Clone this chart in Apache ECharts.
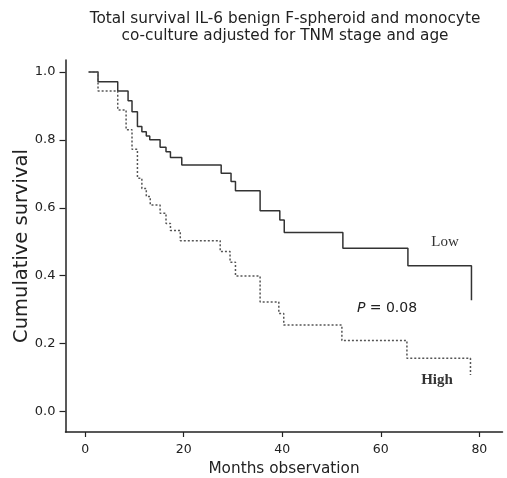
<!DOCTYPE html>
<html>
<head>
<meta charset="utf-8">
<script src="https://cdn.jsdelivr.net/npm/echarts@6/dist/echarts.min.js"></script>
<style>
  html, body { margin: 0; padding: 0; background: #fff; }
  #chart { width: 507px; height: 478px; }
</style>
</head>
<body>
<div id="chart"></div>
<script>
// Kaplan-Meier steps: [month, cumulative survival]
const lowSurvival = [
  [0.7, 1.0], [2.6, 0.971], [6.6, 0.944], [8.7, 0.915], [9.5, 0.883],
  [10.6, 0.839], [11.5, 0.824], [12.4, 0.811], [13.1, 0.800], [15.2, 0.778],
  [16.4, 0.765], [17.3, 0.748], [19.6, 0.726], [27.6, 0.702], [29.6, 0.677],
  [30.5, 0.650], [35.5, 0.591], [39.5, 0.564], [40.4, 0.527], [52.3, 0.481],
  [65.5, 0.429], [78.4, 0.328]
];
const highSurvival = [
  [0.7, 1.0], [2.6, 0.944], [6.6, 0.888], [8.3, 0.830], [9.5, 0.772],
  [10.6, 0.687], [11.5, 0.657], [12.4, 0.633], [13.2, 0.608], [15.2, 0.584],
  [16.4, 0.554], [17.3, 0.533], [19.3, 0.503], [27.4, 0.471], [29.4, 0.440],
  [30.5, 0.399], [35.5, 0.323], [39.3, 0.289], [40.3, 0.255], [52.1, 0.209],
  [65.3, 0.157], [78.2, 0.108]
];
const xTicks = [0, 20, 40, 60, 80];
const yTicks = [0, 0.2, 0.4, 0.6, 0.8, 1.0];

const titleLines = [
  'Total survival IL-6 benign F-spheroid and monocyte',
  'co-culture adjusted for TNM stage and age'
];

const ink = '#222';
const sans = 'DejaVu Sans';
const chart = echarts.init(document.getElementById('chart'));

chart.setOption({
  backgroundColor: '#fff',
  animation: false,
  grid: { left: 65.5, top: 60, width: 437, height: 372, outerBoundsMode: 'none', containLabel: false },
  xAxis: {
    type: 'value',
    min: -4,
    max: 84.7,
    name: 'Months observation',
    nameLocation: 'middle',
    nameGap: 30,
    nameMoveOverlap: false,
    nameTextStyle: { color: ink, fontSize: 15.3, fontFamily: sans },
    axisLine: { show: true, onZero: false, lineStyle: { color: ink, width: 1.5 } },
    axisTick: { show: true, length: 5, customValues: xTicks, lineStyle: { color: ink, width: 1.2 } },
    axisLabel: {
      customValues: xTicks, color: ink, fontSize: 12.5, margin: 11,
      fontFamily: sans
    },
    splitLine: { show: false }
  },
  yAxis: {
    type: 'value',
    min: -0.06,
    max: 1.035,
    name: 'Cumulative survival',
    nameLocation: 'middle',
    nameRotate: 90,
    nameGap: 34,
    nameMoveOverlap: false,
    nameTextStyle: { color: ink, fontSize: 19.5, fontFamily: sans },
    axisLine: { show: true, onZero: false, lineStyle: { color: ink, width: 1.5 } },
    axisTick: { show: true, length: 6, customValues: yTicks, lineStyle: { color: ink, width: 1.2 } },
    axisLabel: {
      customValues: yTicks, color: ink, fontSize: 13, margin: 10,
      fontFamily: sans,
      formatter: (v) => v.toFixed(1)
    },
    splitLine: { show: false }
  },
  series: [
    {
      name: 'Low',
      type: 'line',
      step: 'end',
      data: lowSurvival,
      showSymbol: false,
      lineStyle: { color: '#333', width: 1.5 }
    },
    {
      name: 'High',
      type: 'line',
      step: 'end',
      data: highSurvival,
      showSymbol: false,
      lineStyle: { color: '#555', width: 1.5, type: [2, 2] }
    }
  ],
  graphic: [
    {
      type: 'text',
      x: 285, y: 11,
      style: {
        text: titleLines.join('\n'),
        textAlign: 'center',
        lineHeight: 17,
        fill: ink,
        font: '15.3px "DejaVu Sans"'
      }
    },
    {
      type: 'text',
      x: 445, y: 242,
      style: { text: 'Low', textAlign: 'center', textVerticalAlign: 'middle', fill: '#333', font: '15px "Liberation Serif"' }
    },
    {
      type: 'text',
      x: 437, y: 380,
      style: { text: 'High', textAlign: 'center', textVerticalAlign: 'middle', fill: '#333', font: 'bold 15px "Liberation Serif"' }
    },
    {
      type: 'text',
      x: 387, y: 308,
      style: {
        text: '{p|P} = 0.08',
        textAlign: 'center',
        textVerticalAlign: 'middle',
        fill: ink,
        font: '14px "DejaVu Sans"',
        rich: { p: { fontStyle: 'italic', fontSize: 14, fontFamily: sans, fill: ink } }
      }
    }
  ]
});
</script>
</body>
</html>
